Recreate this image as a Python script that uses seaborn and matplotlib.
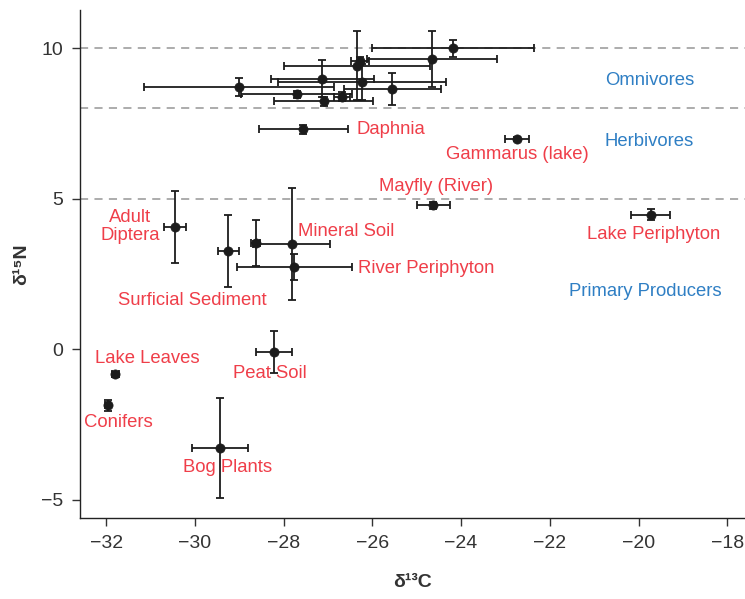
import numpy as np
import pandas as pd
import matplotlib
matplotlib.use("Agg")
import matplotlib.pyplot as plt
import seaborn as sns

# ---- data ----
d13c = [-24.18, -24.65, -26.28, -26.35, -27.13, -26.23, -29.0, -25.55, -27.7, -27.1, -26.68,
        -27.56, -22.74, -24.63, -30.45, -29.25, -28.63, -27.82, -27.76, -19.73,
        -28.22, -31.8, -31.97, -29.43]
d15n = [10.0, 9.63, 9.57, 9.41, 8.99, 8.88, 8.72, 8.64, 8.46, 8.24, 8.38,
        7.31, 6.98, 4.78, 4.06, 3.27, 3.52, 3.49, 2.73, 4.47,
        -0.09, -0.84, -1.86, -3.27]
xerr = [1.82, 1.47, 0.2, 1.64, 1.16, 1.9, 2.14, 1.1, 1.25, 1.12, 0.18,
        1.0, 0.26, 0.37, 0.24, 0.24, 0.1, 0.87, 1.3, 0.44,
        0.4, 0.08, 0.06, 0.63]
yerr = [0.28, 0.93, 0.12, 1.15, 0.63, 0.6, 0.3, 0.52, 0.12, 0.15, 0.15,
        0.15, 0.06, 0.12, 1.19, 1.2, 0.77, 1.86, 0.43, 0.18,
        0.69, 0.08, 0.18, 1.66]

source_labels = ["Daphnia", "Gammarus (lake)", "Mayfly (River)", "Adult\nDiptera",
                 "Mineral Soil", "River Periphyton", "Surficial Sediment",
                 "Lake Periphyton", "Lake Leaves", "Peat Soil", "Conifers", "Bog Plants"]
source_lx = [-26.35, -22.72, -24.57, -31.46, -27.68, -26.32, -30.06, -19.66,
             -31.08, -28.31, -31.73, -29.27]
source_ly = [7.28, 6.48, 5.4, 4.07, 3.9, 2.67, 1.61, 3.8, -0.32, -0.82, -2.45, -3.94]
source_ha = ["left", "center", "center", "center", "left", "left", "center", "center",
             "center", "center", "center", "center"]

level_labels = ["Omnivores", "Herbivores", "Primary Producers"]
level_lx = [-19.75, -19.75, -19.84]
level_ly = [8.92, 6.89, 1.91]

ref_lines = [10, 8, 5]
x_ticks = [-32, -30, -28, -26, -24, -22, -20, -18]
y_ticks = [-5, 0, 5, 10]

df = pd.DataFrame({"d13C": d13c, "d15N": d15n, "xerr": xerr, "yerr": yerr})

# ---- style ----
sns.set_theme(style="ticks")
plt.rcParams["font.family"] = ["Liberation Sans", "DejaVu Sans"]

RED = "#ef3e49"
BLUE = "#2f7fc4"
INK = "#1c1c1c"

fig = plt.figure(figsize=(7.45, 5.99), dpi=100)
ax = fig.add_axes([0.1074, 0.1352, 0.8926, 0.8478])

for yv in ref_lines:
    ax.axhline(yv, color="#a6a6a6", lw=1.3, ls=(0, (4.5, 3.5)), zorder=1)

ax.errorbar(df["d13C"], df["d15N"], xerr=df["xerr"], yerr=df["yerr"],
            fmt="none", ecolor=INK, elinewidth=1.3, capsize=3.2, capthick=1.3, zorder=2)
sns.scatterplot(data=df, x="d13C", y="d15N", ax=ax, color=INK, s=44,
                edgecolor=INK, linewidth=0.5, zorder=3, legend=False)

for t, x, y, ha in zip(source_labels, source_lx, source_ly, source_ha):
    ax.text(x, y, t, color=RED, fontsize=13.3, ha=ha, va="center",
            linespacing=1.1, zorder=4)
for t, x, y in zip(level_labels, level_lx, level_ly):
    ax.text(x, y, t, color=BLUE, fontsize=13.3, ha="center", va="center", zorder=4)

ax.set_xlim(-32.59, -17.6)
ax.set_ylim(-5.61, 11.26)
ax.set_xticks(x_ticks)
ax.set_yticks(y_ticks)
ax.tick_params(axis="both", direction="out", length=6, width=1.0, color="#333333",
               labelsize=14, labelcolor="#333333", pad=6)
for s in ["top", "right"]:
    ax.spines[s].set_visible(False)
for s in ["left", "bottom"]:
    ax.spines[s].set_color("#222222")
    ax.spines[s].set_linewidth(1.0)

ax.set_xlabel("δ¹³C", fontsize=14, fontweight="bold", color="#333333", labelpad=16)
ax.set_ylabel("δ¹⁵N", fontsize=14, fontweight="bold", color="#333333", labelpad=8)

fig.savefig("out.png", dpi=100)
